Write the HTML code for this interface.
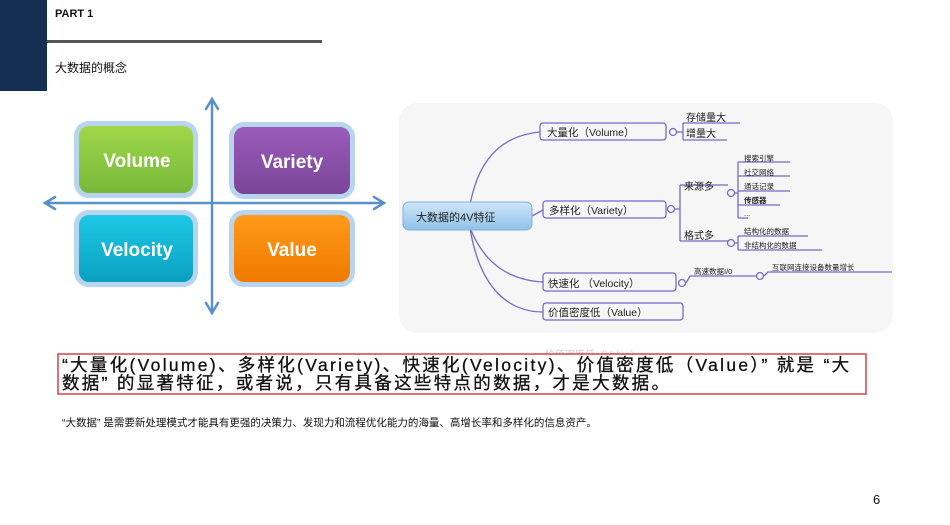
<!DOCTYPE html>
<html><head><meta charset="utf-8"><style>
body{margin:0;width:950px;height:525px;background:#fff;overflow:hidden;position:relative;font-family:"Liberation Sans","Noto Sans CJK SC",sans-serif;}
.abs{position:absolute;}
</style></head><body>
<div class="abs" style="left:0;top:0;width:47px;height:91px;background:#142f52"></div>
<div class="abs" style="left:55px;top:8px;font-size:11px;font-weight:bold;color:#111">PART 1</div>
<div class="abs" style="left:47px;top:40px;width:275px;height:3px;background:#555"></div>
<div class="abs" style="left:55px;top:59px;font-size:12px;color:#111">大数据的概念</div>

<svg class="abs" style="left:0;top:0" width="950" height="525">
<defs>
<linearGradient id="g1" x1="0" y1="0" x2="0" y2="1"><stop offset="0" stop-color="#9ed84a"/><stop offset="1" stop-color="#78b83a"/></linearGradient>
<linearGradient id="g2" x1="0" y1="0" x2="0" y2="1"><stop offset="0" stop-color="#9a5cba"/><stop offset="1" stop-color="#7a4598"/></linearGradient>
<linearGradient id="g3" x1="0" y1="0" x2="0" y2="1"><stop offset="0" stop-color="#1ec8e6"/><stop offset="1" stop-color="#0aa0c0"/></linearGradient>
<linearGradient id="g4" x1="0" y1="0" x2="0" y2="1"><stop offset="0" stop-color="#ff9a1a"/><stop offset="1" stop-color="#f07a00"/></linearGradient>
<linearGradient id="gr" x1="0" y1="0" x2="0" y2="1"><stop offset="0" stop-color="#cfe6f8"/><stop offset="1" stop-color="#8ec1ea"/></linearGradient>
</defs>
<g stroke="#b8d4ef" stroke-width="6" fill="none">
<rect x="77" y="124" width="118" height="71" rx="12"/><rect x="232" y="125" width="120" height="71" rx="12"/>
<rect x="77" y="213" width="118" height="71" rx="12"/><rect x="232" y="213" width="120" height="71" rx="12"/>
</g>
<rect x="79" y="126" width="114" height="67" rx="10" fill="url(#g1)"/>
<rect x="234" y="127" width="116" height="67" rx="10" fill="url(#g2)"/>
<rect x="79" y="215" width="114" height="67" rx="10" fill="url(#g3)"/>
<rect x="234" y="215" width="116" height="67" rx="10" fill="url(#g4)"/>
<g fill="#fff" font-family="Liberation Sans,sans-serif" font-weight="bold" font-size="19" text-anchor="middle">
<text x="137" y="167">Volume</text><text x="292" y="168">Variety</text>
<text x="137" y="256">Velocity</text><text x="292" y="256">Value</text>
</g>
<g stroke="#5b8fc7" stroke-width="2.5" fill="none" stroke-linecap="round">
<line x1="45" y1="203" x2="384" y2="203"/><line x1="212" y1="99" x2="212" y2="313"/>
<polyline points="55,197 45,203 55,209"/><polyline points="374,197 384,203 374,209"/>
<polyline points="206,109 212,99 218,109"/><polyline points="206,303 212,313 218,303"/>
</g>
<rect x="399" y="103" width="494" height="230" rx="18" fill="#f6f6f6"/>
<g stroke="#7b68c8" stroke-width="1.3" fill="none">
<path d="M470,205 C480,150 510,135 540,132"/>
<path d="M532,216 L543,210"/>
<path d="M470,228 C485,265 510,280 543,282"/>
<path d="M470,228 C480,290 510,312 543,312"/>
<rect x="540" y="123" width="126" height="17" rx="3"/>
<rect x="543" y="201" width="123" height="17" rx="3"/>
<rect x="543" y="273" width="133" height="18" rx="3"/>
<rect x="543" y="303" width="140" height="17" rx="3"/>
<circle cx="673" cy="132" r="3.5"/><circle cx="671" cy="209" r="3.5"/><circle cx="682" cy="283" r="3.5"/>
<circle cx="731" cy="193" r="3.5"/><circle cx="731" cy="243" r="3.5"/><circle cx="760" cy="276" r="3.5"/>
<path d="M677,132 L683,132 M683,123 L683,140 M683,123 L740,123 M683,140 L727,140"/>
<path d="M675,209 L680,209 M680,185 L680,241 M680,185 L728,185 M680,241 L728,241"/>
<path d="M735,193 L738,193 M738,162 L738,218 M738,162 L790,162 M738,176 L790,176 M738,191 L790,191 M738,205 L780,205 M738,218 L748,218"/>
<path d="M735,243 L738,243 M738,236 L738,250 M738,236 L808,236 M738,250 L822,250"/>
<path d="M686,283 L690,276 L756,276 M764,276 L768,272 L892,272"/>
</g>
<rect x="403" y="202" width="129" height="28" rx="6" fill="url(#gr)" stroke="#7fb0dd"/>
<g font-family="Liberation Sans,Noto Sans CJK SC,sans-serif" fill="#222">
<text x="416" y="221" font-size="11">大数据的4V特征</text>
<text x="547" y="136" font-size="10.5">大量化（Volume）</text>
<text x="549" y="214" font-size="10.5">多样化（Variety）</text>
<text x="548" y="287" font-size="10.5">快速化 （Velocity）</text>
<text x="548" y="316" font-size="10.5">价值密度低（Value）</text>
<text x="686" y="121" font-size="10">存储量大</text>
<text x="686" y="137" font-size="10">增量大</text>
<text x="684" y="190" font-size="10">来源多</text>
<text x="684" y="239" font-size="10">格式多</text>
<g font-size="7.5"><text x="744" y="161">搜索引擎</text><text x="744" y="175">社交网络</text><text x="744" y="189">通话记录</text>
<text x="744" y="203" font-weight="bold">传感器</text><text x="744" y="216">...</text>
<text x="744" y="234">结构化的数据</text><text x="744" y="248">非结构化的数据</text>
<text x="694" y="274">高速数据I/0</text><text x="772" y="270">互联网连接设备数量增长</text></g>
</g>
<text x="545" y="358" font-size="10" fill="#ccc" font-family="Liberation Sans,Noto Sans CJK SC,sans-serif">价值密度低（Value）</text>
<rect x="58" y="354" width="808" height="40" fill="rgba(255,255,255,0.85)" stroke="#d9404e" stroke-width="1.5"/>
</svg>
<div class="abs" style="left:62px;top:356px;width:800px;font-size:17.5px;line-height:18px;color:#111;-webkit-text-stroke:0.3px #111;font-family:'Liberation Sans','Noto Sans CJK SC',sans-serif;letter-spacing:2.3px;white-space:nowrap">
<div>“大量化(Volume)、多样化(Variety)、快速化(Velocity)、价值密度低（Value）” 就是 “大</div>
<div>数据” 的显著特征，或者说，只有具备这些特点的数据，才是大数据。</div>
</div>
<div class="abs" style="left:62px;top:415px;font-size:10.5px;color:#111;font-family:'Liberation Sans','Noto Sans CJK SC',sans-serif">“大数据” 是需要新处理模式才能具有更强的决策力、发现力和流程优化能力的海量、高增长率和多样化的信息资产。</div>
<div class="abs" style="left:873px;top:492px;font-size:13px;color:#111">6</div>
</body></html>
